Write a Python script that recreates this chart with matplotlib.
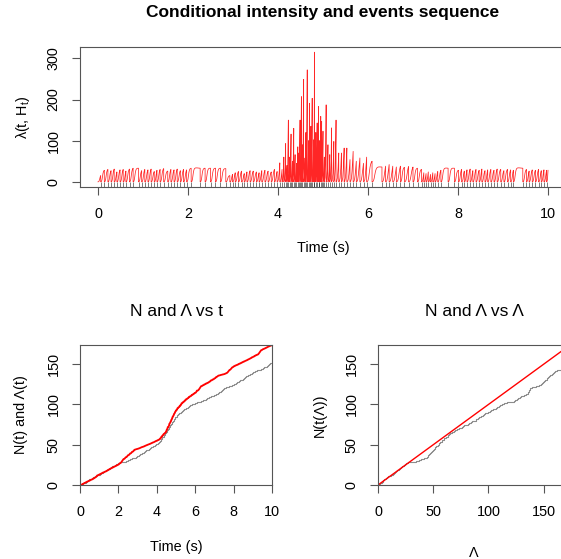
import numpy as np
import matplotlib.pyplot as plt

plt.rcParams['font.family'] = ['Liberation Sans', 'DejaVu Sans']
plt.rcParams['mathtext.fontset'] = 'custom'
plt.rcParams['mathtext.rm'] = 'Liberation Sans'
plt.rcParams['mathtext.it'] = 'Liberation Sans:italic'

event_times = [
    0.06, 0.14, 0.22, 0.29, 0.36, 0.42, 0.49, 0.56, 0.62, 0.70, 0.78, 0.90, 0.97, 1.04,
    1.11, 1.18, 1.25, 1.31, 1.38, 1.46, 1.55, 1.62, 1.69, 1.76, 1.83, 1.90, 1.97, 2.07,
    2.27, 2.38, 2.50, 2.61, 2.72, 2.84, 2.93, 2.99, 3.05, 3.12, 3.19, 3.25, 3.31, 3.38,
    3.45, 3.52, 3.58, 3.64, 3.71, 3.78, 3.85, 3.92, 3.98,
    4.04, 4.09, 4.13, 4.17, 4.20, 4.23, 4.26, 4.29, 4.32, 4.35, 4.38, 4.41, 4.44, 4.46,
    4.49, 4.52, 4.54, 4.57, 4.60, 4.62, 4.65, 4.68, 4.70, 4.73, 4.76, 4.79, 4.81, 4.84,
    4.87, 4.90, 4.92, 4.95, 4.97, 5.00,
    5.03, 5.07, 5.11, 5.15, 5.19, 5.24, 5.29, 5.35, 5.41, 5.47, 5.53, 5.60, 5.67, 5.74,
    5.82, 5.90, 5.97, 6.09, 6.31, 6.39, 6.47, 6.55, 6.63, 6.72, 6.81, 6.90, 7.00,
    7.10, 7.19, 7.24, 7.29, 7.34, 7.39, 7.44, 7.49, 7.55, 7.62, 7.78, 7.92,
    8.01, 8.08, 8.14, 8.20, 8.27, 8.33, 8.40, 8.47, 8.53, 8.60, 8.66, 8.73, 8.80, 8.87, 8.95,
    9.02, 9.10, 9.17, 9.23, 9.44, 9.52, 9.58, 9.65, 9.72, 9.79, 9.85, 9.91, 9.97,
]
# intensity reached just before each spike (last value is at t = 10 s)
peak_heights = [
    15, 28, 30, 27, 31, 24, 29, 30, 26, 31, 33, 33, 27, 30,
    29, 31, 25, 28, 30, 32, 26, 30, 29, 31, 27, 30, 29, 33,
    33, 33, 33, 33, 33, 32, 15, 18, 22, 25, 26, 20, 24, 27,
    26, 24, 22, 27, 28, 26, 24, 30, 25,
    46, 30, 60, 93, 40, 150, 60, 116, 50, 130, 66, 45, 85, 70,
    150, 207, 90, 249, 58, 120, 272, 100, 191, 135, 203, 102, 315, 120,
    143, 183, 100, 159, 147, 123,
    60, 187, 90, 66, 131, 98, 150, 70, 70, 82, 82, 54, 74, 50,
    58, 45, 60, 50, 36, 38, 42, 38, 36, 38, 35, 37, 36,
    33, 30, 22, 20, 24, 18, 22, 20, 25, 28, 33, 33,
    28, 30, 26, 29, 31, 27, 30, 28, 31, 27, 29, 30, 28, 31, 30,
    27, 30, 29, 28, 33, 30, 26, 29, 28, 30, 27, 29, 28,
    28,
]
# shape of the intensity after a spike (time since spike in s, Hz)
hazard_lag = [0, 0.01, 0.02, 0.03, 0.04, 0.05, 0.06, 0.07, 0.08, 0.10, 0.13, 0.17, 0.22, 0.30]
hazard_val = [0, 0.3, 2, 7, 15, 23, 28, 31, 32.5, 33.5, 33.5, 33, 32.5, 32]
# during the burst (peaks above 35 Hz) the rise after a spike is slower
burst_level = 35
burst_stretch = 1.5
t_end = 10.0

# piecewise conditional intensity
starts = [0.0] + event_times
ends = event_times + [t_end]
lam_t, lam_y, peak_idx = [], [], []
for k, (a, b, p) in enumerate(zip(starts, ends, peak_heights)):
    dt = b - a
    s = burst_stretch if p > burst_level else 1.0
    g = p / np.interp(dt / s, hazard_lag, hazard_val)
    for lag, v in zip(hazard_lag, hazard_val):
        if lag * s < dt:
            lam_t.append(a + lag * s)
            lam_y.append(g * v)
    lam_t.append(b)
    lam_y.append(p)
    peak_idx.append(len(lam_t) - 1)
    if k < len(event_times):
        lam_t.append(b)
        lam_y.append(0.0)
lam_t = np.array(lam_t)
lam_y = np.array(lam_y)

# integrated intensity
cum = np.concatenate([[0], np.cumsum(np.diff(lam_t) * (lam_y[1:] + lam_y[:-1]) / 2)])
cum_at_events = cum[peak_idx[:-1]]
lam_max = cum[-1]
n_events = len(event_times)

W, H = 561, 559
fig = plt.figure(figsize=(W / 100, H / 100), dpi=100)
FS = 10.4
FT = 12.5


def box(x0, y0, x1, y1):
    return [x0 / W, 1 - y1 / H, (x1 - x0) / W, (y1 - y0) / H]


def style(ax):
    for s in ax.spines.values():
        s.set_color('#555555')
        s.set_linewidth(0.8)
    ax.tick_params(direction='out', length=5.8, width=0.8, color='#555555',
                   labelsize=FS, pad=13.3)
    plt.setp(ax.get_xticklabels(), va='center')
    plt.setp(ax.get_yticklabels(), rotation=90, va='center', ha='center')


def ftext(x, y, s, **kw):
    fig.text(x / W, 1 - y / H, s, ha='center', va='center', **kw)


# top: intensity and events
ax = fig.add_axes(box(80, 47, 566, 187))
ax.plot(lam_t, lam_y, color='red', lw=0.55, alpha=0.85)
ax.vlines(event_times, -12.6, 0, color='black', lw=0.6, alpha=0.6)
ax.set_xlim(-0.4, 10.4)
ax.set_ylim(-12.6, 327.6)
ax.set_xticks(range(0, 11, 2))
ax.set_yticks([0, 100, 200, 300])
style(ax)

# bottom left: N and Lambda vs t
ax2 = fig.add_axes(box(80, 345, 272, 485))
ax2.step([0] + event_times + [t_end], list(range(n_events + 1)) + [n_events],
         where='post', color='#8c8c8c', lw=0.8)
ax2.plot(lam_t, cum, color='red', lw=1.3)
ax2.set_xlim(0, 10)
ax2.set_ylim(0, lam_max)
ax2.set_xticks(range(0, 11, 2))
ax2.set_yticks([0, 50, 100, 150])
style(ax2)

# bottom right: N vs Lambda
ax3 = fig.add_axes(box(378, 345, 570, 485))
ax3.step([0] + list(cum_at_events) + [lam_max], list(range(n_events + 1)) + [n_events],
         where='post', color='#8c8c8c', lw=0.8)
ax3.plot([0, lam_max], [0, lam_max], color='red', lw=1.0)
ax3.set_xlim(0, lam_max)
ax3.set_ylim(0, lam_max)
ax3.set_xticks([0, 50, 100, 150])
ax3.set_yticks([0, 50, 100, 150])
style(ax3)

ftext(323, 13, 'Conditional intensity and events sequence', fontsize=FT, fontweight='bold')
ftext(23, 117, 'λ(t, H$_\\mathrm{t}$)', fontsize=FS, rotation=90)
ftext(323, 248, 'Time (s)', fontsize=FS)
ftext(176, 312, 'N and Λ vs t', fontsize=FT)
ftext(474, 312, 'N and Λ vs Λ', fontsize=FT)
ftext(21, 415, 'N(t) and Λ(t)', fontsize=FS, rotation=90)
ftext(320, 415, 'N(t(Λ))', fontsize=FS, rotation=90)
ftext(176, 547, 'Time (s)', fontsize=FS)
ftext(474, 553, 'Λ', fontsize=FS)

fig.savefig('out.png', dpi=100)
